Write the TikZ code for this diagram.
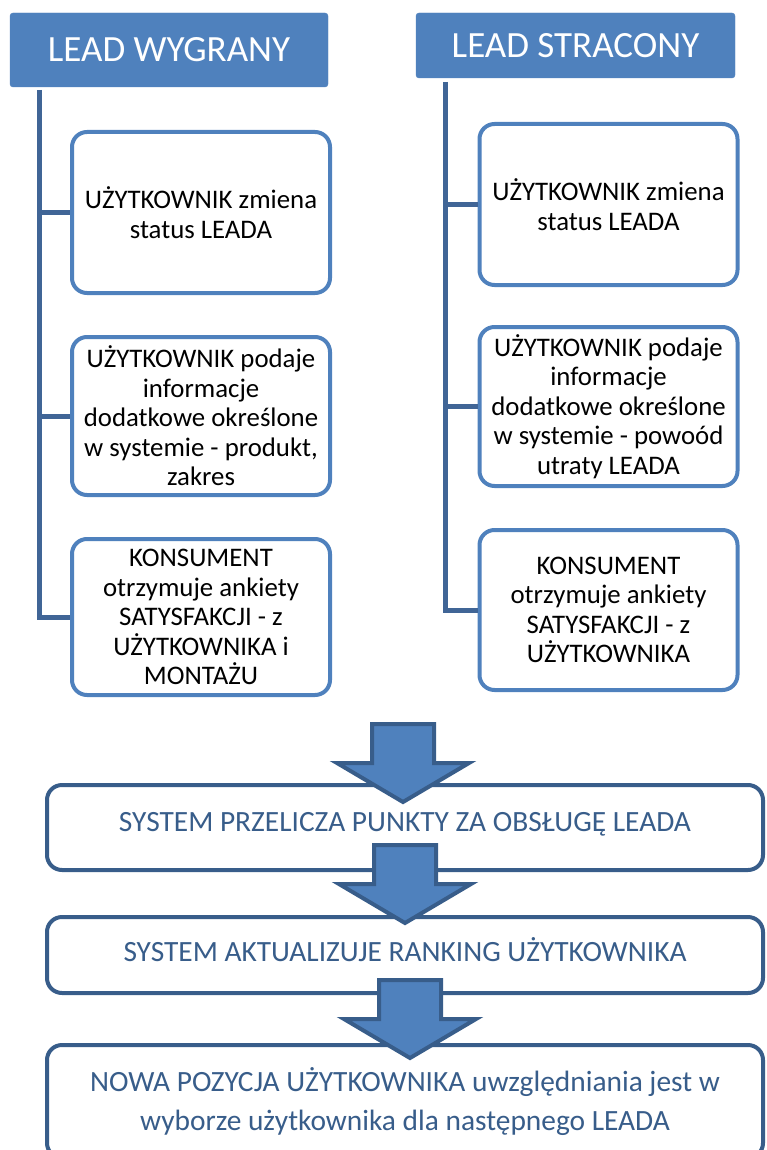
\documentclass[tikz,border=0pt]{standalone}
\usepackage{fontspec}
\setmainfont{Carlito}
\usepackage{tikz}
\usetikzlibrary{positioning}
\usetikzlibrary{calc}

\definecolor{leadblue}{RGB}{79,129,189}
\definecolor{spineblue}{RGB}{64,101,150}
\definecolor{sysblue}{RGB}{56,93,138}

\tikzset{
  headbox/.style={fill=leadblue, draw=leadblue, rounded corners=3pt, text=white,
    font=\fontsize{37}{43}\selectfont, inner sep=0pt},
  stepcard/.style={draw=leadblue, fill=white, line width=4pt, rounded corners=15pt,
    minimum width=258pt, align=center, font=\fontsize{26.8}{29.5}\selectfont, inner sep=0pt},
  sysbox/.style={draw=sysblue, fill=white, line width=4pt, rounded corners=15pt,
    minimum width=716pt, align=center, text=sysblue, font=\fontsize{29.4}{39}\selectfont, inner sep=0pt},
  spine/.style={draw=spineblue, line width=5pt},
  arrowbody/.style={fill=leadblue, draw=sysblue, line width=4pt},
  bigarrow/.pic={
    \draw[arrowbody] (-31,0) -- (31,0) -- (31,-39) -- (66,-39) -- (0,-78) -- (-66,-39) -- (-31,-39) -- cycle;
  }
}

\begin{document}
\begin{tikzpicture}[x=1pt,y=1pt,yscale=-1,xscale=1]
\clip (0,0) rectangle (767,1150);

%Shape: Header boxes
\node[headbox, minimum width=318pt, minimum height=74pt] (won) at (169,50) {LEAD WYGRANY};
\node[headbox, minimum width=319pt, minimum height=65pt] (lost) at (575.5,45.5) {LEAD STRACONY};

%Shape: Cards under LEAD WYGRANY
\node[stepcard, minimum height=161pt] (w1) at (201,212.5) {UŻYTKOWNIK zmiena\\status LEADA};
\node[stepcard, minimum height=158pt] (w2) at (201,416) {UŻYTKOWNIK podaje\\informacje\\dodatkowe określone\\w systemie - produkt,\\zakres};
\node[stepcard, minimum height=156pt] (w3) at (201,617) {KONSUMENT\\otrzymuje ankiety\\SATYSFAKCJI - z\\UŻYTKOWNIKA i\\MONTAŻU};

%Shape: Cards under LEAD STRACONY
\node[stepcard, minimum height=161pt] (l1) at (608.5,204.5) {UŻYTKOWNIK zmiena\\status LEADA};
\node[stepcard, minimum height=159pt] (l2) at (608.5,406.5) {UŻYTKOWNIK podaje\\informacje\\dodatkowe określone\\w systemie - powoód\\utraty LEADA};
\node[stepcard, minimum height=160pt] (l3) at (608.5,610) {KONSUMENT\\otrzymuje ankiety\\SATYSFAKCJI - z\\UŻYTKOWNIKA};

%Straight Lines: spines
\coordinate (wspine) at (39,90);
\coordinate (lspine) at (445,82);
\draw[spine] (wspine) |- (w3.west);
\draw[spine] (wspine |- w1.west) -- (w1.west);
\draw[spine] (wspine |- w2.west) -- (w2.west);
\draw[spine] (lspine) |- (l3.west);
\draw[spine] (lspine |- l1.west) -- (l1.west);
\draw[spine] (lspine |- l2.west) -- (l2.west);

%Shape: System boxes
\node[sysbox, minimum height=85pt, text depth=12pt] (recount) at (405,827.5) {SYSTEM PRZELICZA PUNKTY ZA OBSŁUGĘ LEADA};
\node[sysbox, minimum height=76pt, text depth=12pt] (ranking) at (405,955) {SYSTEM AKTUALIZUJE RANKING UŻYTKOWNIKA};
\node[sysbox, minimum height=113pt] (newpos) at (405,1101.5) {NOWA POZYCJA UŻYTKOWNIKA uwzględniania jest w\\wyborze użytkownika dla następnego LEADA};

%Shape: Block arrows
\pic at (403,724) {bigarrow};
\pic at (405,845) {bigarrow};
\pic at (410,980) {bigarrow};

\end{tikzpicture}
\end{document}
